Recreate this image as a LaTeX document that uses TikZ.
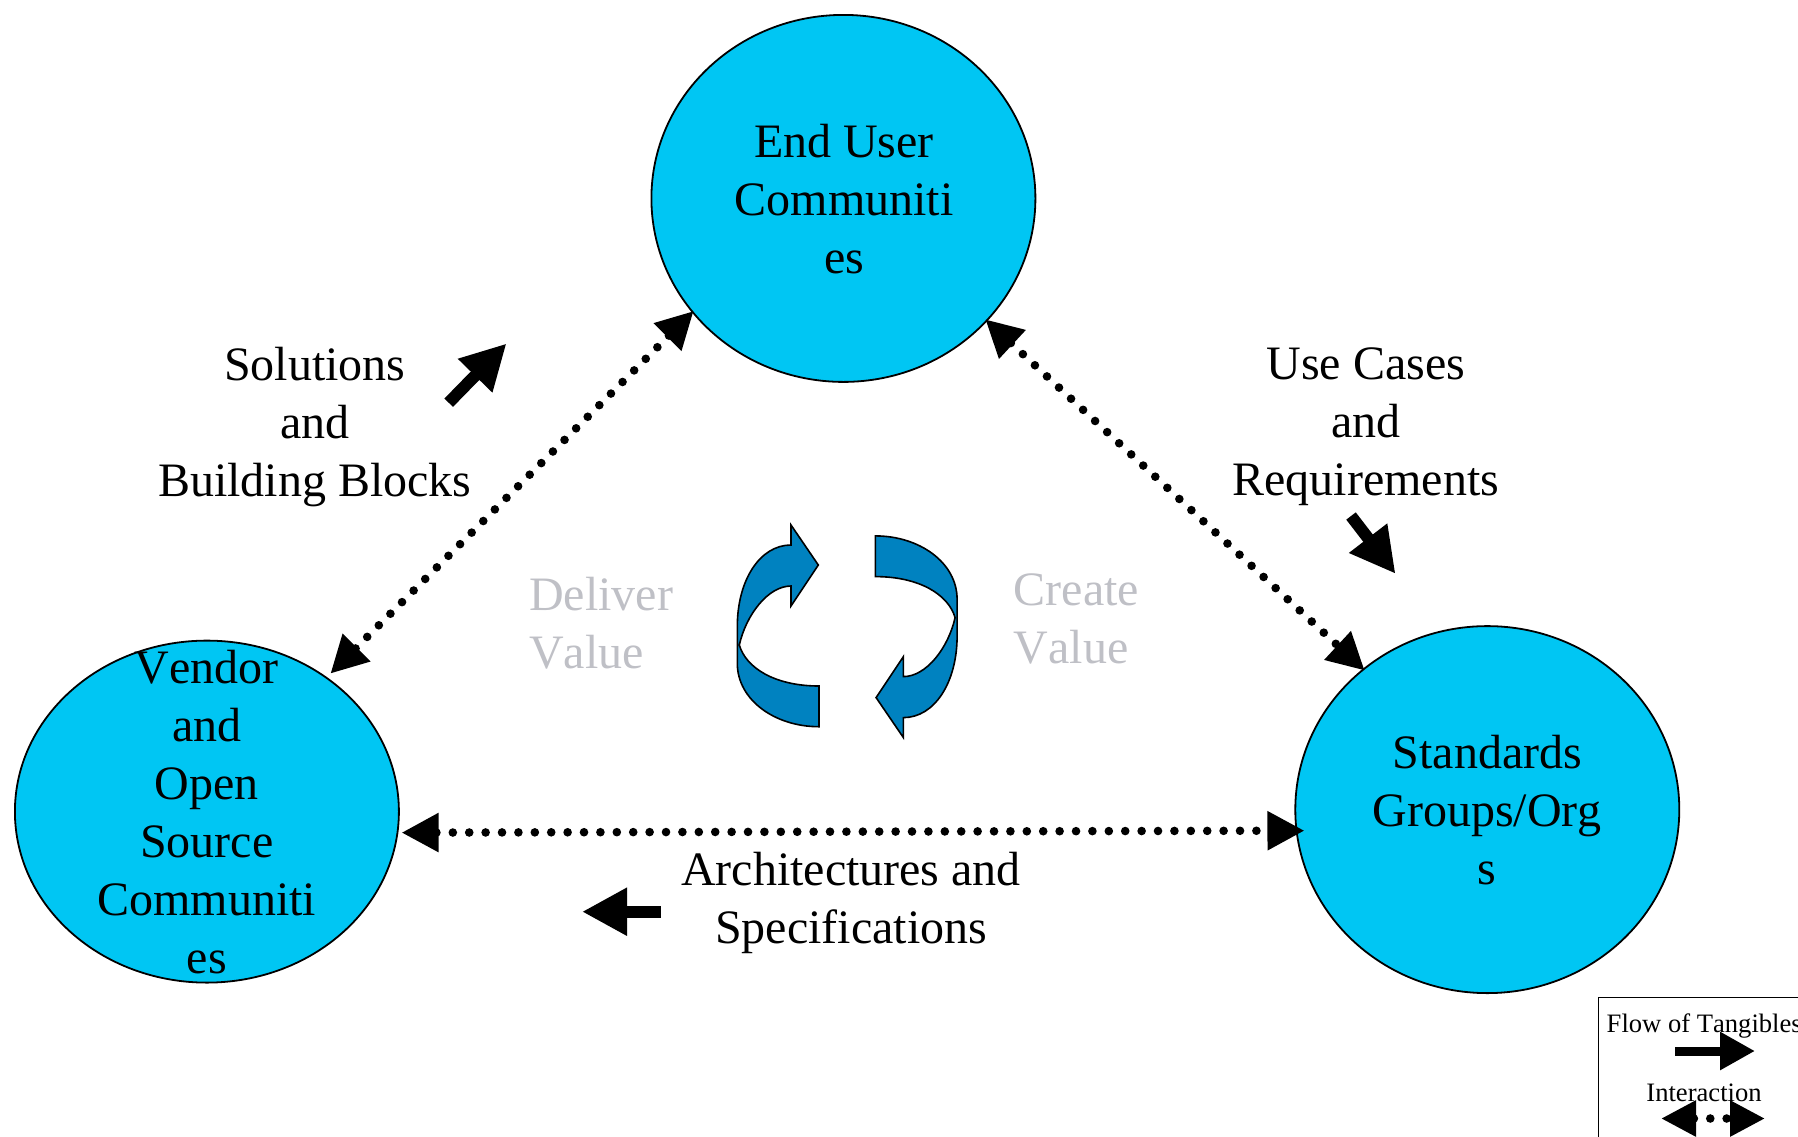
\documentclass[tikz,border=0pt]{standalone}
\usepackage{fontspec}
\setmainfont[Kerning=Off]{Liberation Serif}
\usetikzlibrary{arrows.meta,shapes.geometric}
\definecolor{circ}{HTML}{00C6F3}
\definecolor{cycle}{HTML}{0082C0}
\definecolor{palegray}{HTML}{BFC0C6}
\tikzset{
  community/.style={ellipse,draw=black,line width=1.8pt,fill=circ,inner sep=0pt,outer sep=0pt},
  bigtext/.style={align=center,inner sep=0pt,font=\fontsize{48}{58}\selectfont},
  valuetext/.style={align=left,inner sep=0pt,anchor=west,text=palegray,font=\fontsize{48}{58}\selectfont},
  legendtext/.style={inner sep=0pt,font=\fontsize{26.6}{32}\selectfont},
  interact/.style={line width=8.6pt,line cap=round,dash pattern=on 0pt off 16.4pt,
    {Triangle[length=37pt,width=37pt]}-{Triangle[length=37pt,width=37pt]}},
  flow/.style={line width=12pt,-{Triangle[length=45pt,width=45pt]}},
  cyclearrow/.style={draw=black,line width=1.6pt,fill=cycle,line join=miter}
}
\begin{document}
\begin{tikzpicture}[x=1pt,y=-1pt]
\useasboundingbox (0,0) rectangle (1798,1136);
\clip (0,0) rectangle (1798,1136);

\node[community,minimum width=384pt,minimum height=367pt] (top) at (843.4,198.4) {};
\node[community,minimum width=384pt,minimum height=342pt] (left) at (206.9,811.6) {};
\node[community,minimum width=384pt,minimum height=367pt] (right) at (1487.3,809.6) {};

\node[bigtext] (toptext) at (844,199) {End User\\Communiti\\es};
\node[bigtext] (lefttext) at (206.9,812) {Vendor\\and\\Open\\Source\\Communiti\\es};
\node[bigtext] (righttext) at (1487.3,810) {Standards\\Groups/Org\\s};
\node[bigtext] (solutions) at (314.8,427) {Solutions\\and\\Building Blocks};
\node[bigtext] (usecases) at (1365.7,426.5) {Use Cases\\and\\Requirements};
\node[bigtext] (arch) at (851,903) {Architectures and\\Specifications};
\node[valuetext] (deliver) at (529,623.5) {Deliver\\Value};
\node[valuetext] (create) at (1013.7,618.5) {Create\\Value};

\draw[interact] ([xshift=1pt,yshift=1pt]top.217) -- ([xshift=3.4pt,yshift=4.6pt]left.48);
\draw[interact] ([xshift=-4.6pt,yshift=-2.3pt]top.-39) -- ([xshift=2.6pt,yshift=0pt]right.132);
\draw[interact] ([xshift=4pt,yshift=-1pt]left.-6) -- ([xshift=8pt,yshift=-1pt]right.186.6);

\coordinate (f1a) at (448.7,402.7);
\coordinate (f1b) at (506.5,343.5);
\coordinate (f2a) at (1351,516);
\coordinate (f2b) at (1395.5,573.8);
\coordinate (f3a) at (660.7,911.7);
\coordinate (f3b) at (582,911.7);
\draw[flow] (f1a) -- (f1b);
\draw[flow] (f2a) -- (f2b);
\draw[flow] (f3a) -- (f3b);

\def\cyclepath{(819,726.7) .. controls (775,726.7) and (737.3,700) .. (737.3,663.3)
  -- (737.3,626.7) .. controls (737.3,580) and (760,545) .. (791,545)
  -- (791,525) -- (818.3,565) -- (791,606) -- (791,586)
  .. controls (768,586) and (746,615) .. (739.3,645)
  .. controls (746,668) and (775,686) .. (819,686) -- cycle}
\path[cyclearrow] \cyclepath;
\begin{scope}[rotate around={180:(847.2,631.3)}]
\path[cyclearrow] \cyclepath;
\end{scope}

\node[draw=black,line width=1.6pt,fill=none,minimum width=300pt,minimum height=300pt,anchor=north west,inner sep=0pt] (legend) at (1597.7,996.7) {};
\node[legendtext,anchor=west] (flowlabel) at (1606.5,1025.5) {Flow of Tangibles};
\node[legendtext] (interlabel) at (1704,1093) {Interaction};
\coordinate (la) at (1675,1051);
\coordinate (lb) at (1755,1051);
\draw[line width=9pt,-{Triangle[length=35pt,width=36pt]}] (la) -- (lb);
\coordinate (ia) at (1661,1118.5);
\coordinate (ib) at (1765,1118.5);
\draw[line width=8.6pt,line cap=round,dash pattern=on 0pt off 16.4pt,
  {Triangle[length=35pt,width=34pt]}-{Triangle[length=35pt,width=34pt]}] (ia) -- (ib);
\end{tikzpicture}
\end{document}
